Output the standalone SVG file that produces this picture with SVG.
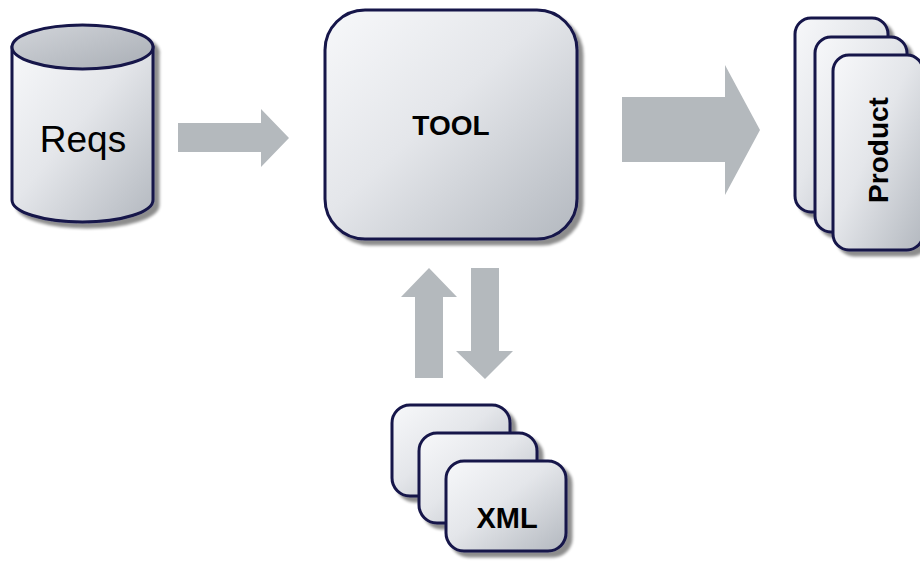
<svg xmlns="http://www.w3.org/2000/svg" width="920" height="578" viewBox="0 0 920 578">
  <defs>
    <linearGradient id="card" x1="0" y1="0" x2="1" y2="1">
      <stop offset="0" stop-color="#F7F8FA"/>
      <stop offset="0.45" stop-color="#E4E6EA"/>
      <stop offset="1" stop-color="#B3B8BF"/>
    </linearGradient>
    <linearGradient id="cap" x1="0" y1="0" x2="1" y2="1">
      <stop offset="0" stop-color="#D2D5DA"/>
      <stop offset="1" stop-color="#A9AEB5"/>
    </linearGradient>
    <filter id="shadow" x="-10%" y="-10%" width="125%" height="125%">
      <feGaussianBlur in="SourceAlpha" stdDeviation="1.5"/>
      <feOffset dx="5" dy="5" result="off"/>
      <feComponentTransfer><feFuncA type="linear" slope="0.45"/></feComponentTransfer>
      <feMerge><feMergeNode/><feMergeNode in="SourceGraphic"/></feMerge>
    </filter>
  </defs>
  <style>
    .box { fill: url(#card); stroke: #14144A; stroke-width: 3; filter: url(#shadow); }
    .arrow { fill: #B4B9BD; }
    .label { font-family: "Liberation Sans", Arial, sans-serif; fill: #000; text-anchor: middle; }
    .bold { font-weight: bold; }
  </style>

  <rect width="920" height="578" fill="#FFFFFF"/>

  <!-- connectors -->
  <g id="connectors">
    <polygon class="arrow" points="178,123 261,123 261,109 289,138 261,167 261,152 178,152"/>
    <polygon class="arrow" points="622,97 725,97 725,65 760,130 725,195 725,162 622,162"/>
    <polygon class="arrow" points="415,378 415,297 401,297 429,268 457,297 443,297 443,378"/>
    <polygon class="arrow" points="471,268 499,268 499,351 513,351 485,379 456,351 471,351"/>
  </g>

  <!-- requirements store -->
  <g id="reqs">
    <g filter="url(#shadow)">
      <path d="M12,47 L12,200 A70.5,22 0 0 0 153,200 L153,47 Z" fill="url(#card)" stroke="#14144A" stroke-width="3"/>
      <ellipse cx="82.5" cy="47" rx="70.5" ry="22" fill="url(#cap)" stroke="#14144A" stroke-width="3"/>
    </g>
    <text class="label" x="83" y="152" font-size="37">Reqs</text>
  </g>

  <!-- central tool -->
  <g id="tool">
    <rect class="box" x="325" y="10" width="252" height="229" rx="40" ry="40"/>
    <text class="label bold" x="451" y="135" font-size="28">TOOL</text>
  </g>

  <!-- product stack -->
  <g id="product">
    <rect class="box" x="795" y="18" width="93" height="194" rx="16" ry="16"/>
    <rect class="box" x="815" y="37" width="92" height="195" rx="16" ry="16"/>
    <rect class="box" x="833" y="55" width="90" height="195" rx="16" ry="16"/>
    <text class="label bold" x="0" y="0" font-size="28" transform="translate(888,150) rotate(-90)">Product</text>
  </g>

  <!-- xml stack -->
  <g id="xml">
    <rect class="box" x="392" y="405" width="118" height="91" rx="18" ry="18"/>
    <rect class="box" x="419" y="433" width="118" height="90" rx="18" ry="18"/>
    <rect class="box" x="446" y="461" width="120" height="90" rx="18" ry="18"/>
    <text class="label bold" x="507" y="528" font-size="29">XML</text>
  </g>
</svg>
